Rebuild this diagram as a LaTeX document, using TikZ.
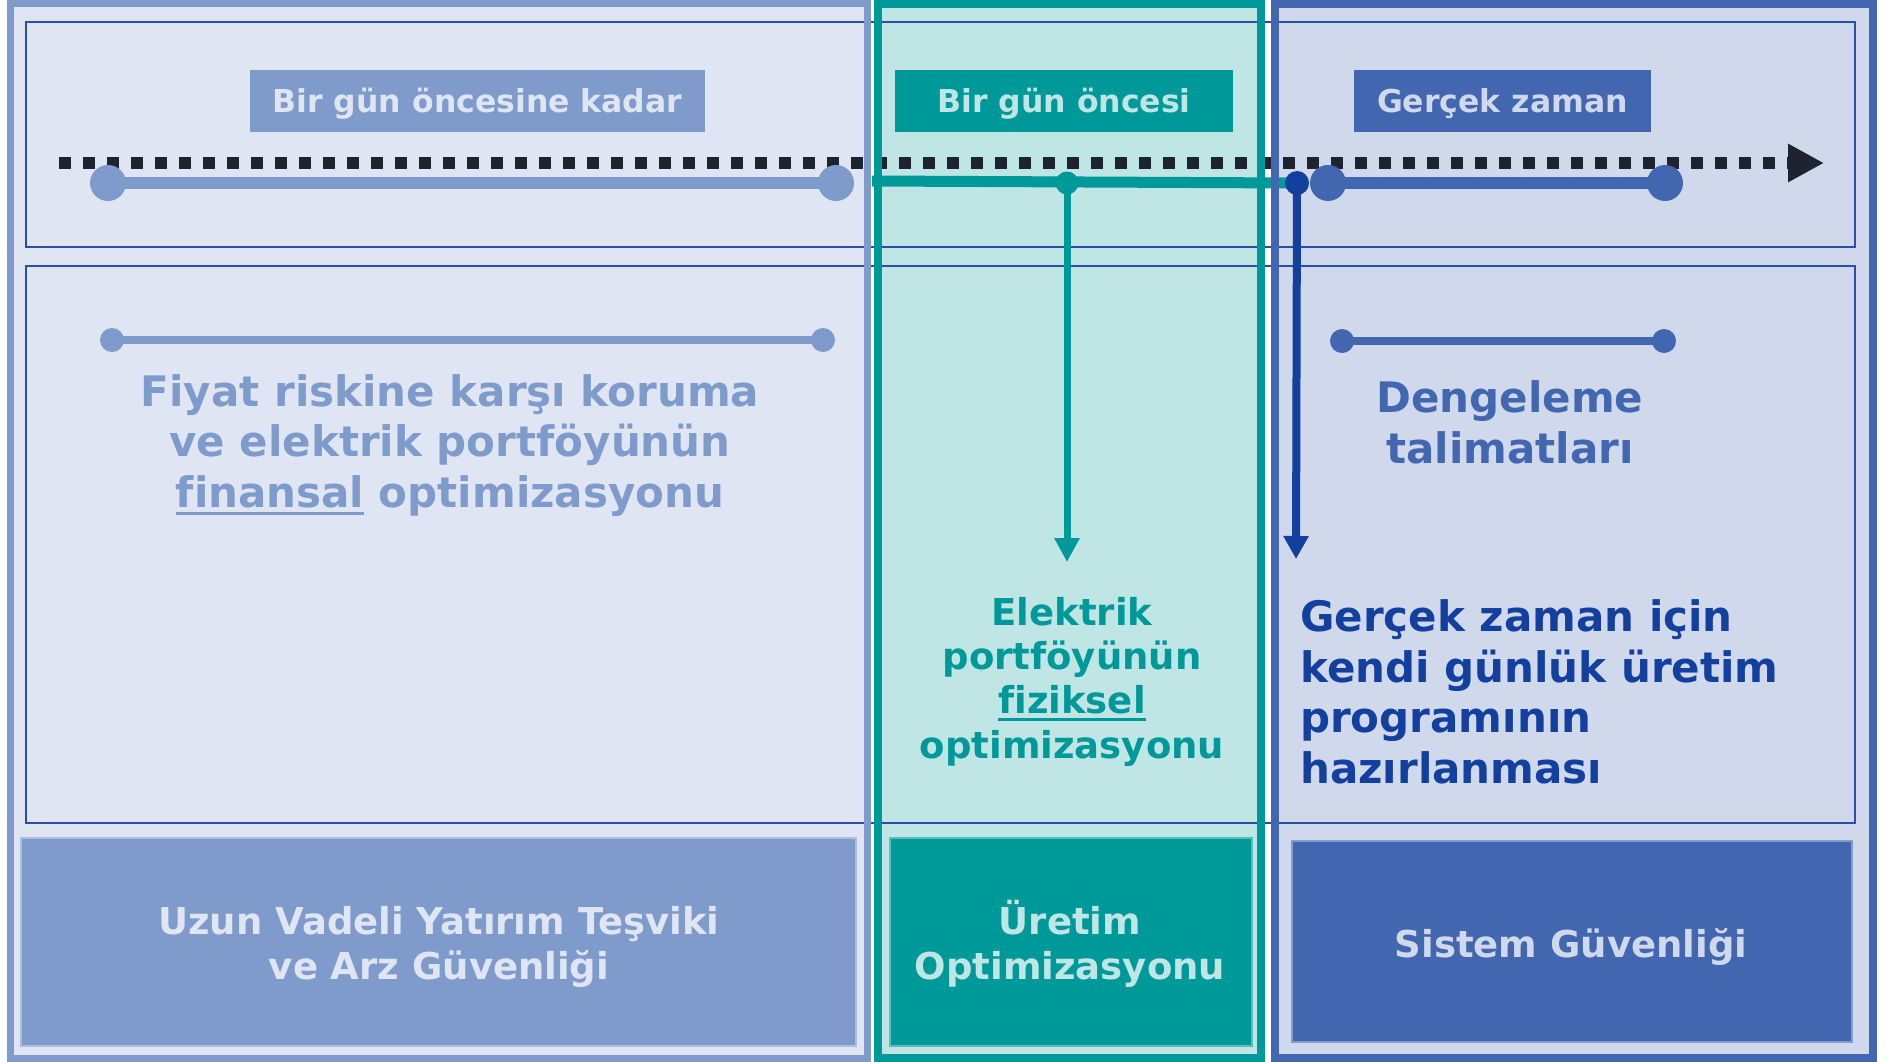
\documentclass[tikz,border=0pt]{standalone}
\usepackage{fontspec}
\setmainfont[Ligatures=NoCommon]{DejaVu Sans}
\usetikzlibrary{arrows.meta}
\definecolor{lbl}{HTML}{7F9BCC}
\definecolor{lfill}{HTML}{DFE5F3}
\definecolor{tealc}{HTML}{009999}
\definecolor{tfill}{HTML}{BFE5E5}
\definecolor{blu}{HTML}{4266B0}
\definecolor{bfill}{HTML}{D0D9EC}
\definecolor{dblu}{HTML}{133F9F}
\definecolor{thinc}{HTML}{2A4FA8}
\definecolor{dotc}{HTML}{1E2330}
\newsavebox\ulbox
\newcommand\myul[1]{\sbox\ulbox{#1}\rlap{\rule[-7.5pt]{\wd\ulbox}{3pt}}\usebox\ulbox}
\begin{document}
\begin{tikzpicture}[x=1pt,y=-1pt,
  blob/.style={circle,inner sep=0pt,minimum size=#1},
  lab/.style={inner sep=0pt,minimum height=62pt,text height=24pt,text depth=0pt,
    font=\bfseries\fontsize{31.5}{36}\selectfont},
  txt/.style={inner sep=0pt,align=center,anchor=base},
  bigtxt/.style={font=\bfseries\fontsize{42}{50.5}\selectfont},
  midtxt/.style={font=\bfseries\fontsize{37}{44.3}\selectfont},
  bottxt/.style={font=\bfseries\fontsize{37}{45}\selectfont},
  botbox/.style={inner sep=0pt,draw=white!35!#1,fill=#1,line width=1.5pt},
  thinbox/.style={draw=thinc,line width=2pt}
]
\useasboundingbox (0,0) rectangle (1897,1062);
\fill[white] (0,0) rectangle (1897,1062);
% column fills
\fill[lfill] (10,4) rectangle (867,1058);
\fill[tfill] (877.5,4) rectangle (1261,1058);
\fill[bfill] (1275,4) rectangle (1873,1058);
% thin bands
\draw[thinbox] (26,22) rectangle (1855,247);
\draw[thinbox] (26,266) rectangle (1855,823);
% time axis
\coordinate (ax0) at (59,163);
\coordinate (ax1) at (1824,163);
\draw[dotc,line width=12pt,dash pattern=on 12pt off 12pt,-{Triangle[length=36pt,width=36pt]}] (ax0) -- (ax1);
% teal line
\coordinate (tst) at (872,181);
\coordinate (bdc) at (1297,183);
\draw[tealc,line width=11pt] (tst) -- (bdc);
% column borders
\draw[lbl,line width=7pt] (10,4) rectangle (867,1058);
\draw[tealc,line width=8pt] (877.5,4) rectangle (1261,1058);
\draw[blu,line width=8pt] (1275,4) rectangle (1873,1058);
% label boxes
\node[lab,fill=lbl,text=lfill,minimum width=455pt] (la) at (477.5,101) {Bir gün öncesine kadar};
\node[lab,fill=tealc,text=tfill,minimum width=338pt] (lb) at (1064,101) {Bir gün öncesi};
\node[lab,fill=blu,text=bfill,minimum width=297pt] (lc) at (1502.5,101) {Gerçek zaman};
% top bars
\node[blob=36pt,fill=lbl] (l1) at (108,183) {};
\node[blob=36pt,fill=lbl] (l2) at (836,183) {};
\draw[lbl,line width=12pt] (l1.center) -- (l2.center);
\node[blob=36pt,fill=blu] (r1) at (1328,183) {};
\node[blob=36pt,fill=blu] (r2) at (1665,183) {};
\draw[blu,line width=12pt] (r1.center) -- (r2.center);
\node[blob=23pt,fill=tealc] (td) at (1067,183) {};
\node[blob=24pt,fill=dblu] (bd) at (bdc) {};
% vertical arrows
\coordinate (tarr) at (1067,562);
\coordinate (barr) at (1296,559);
\draw[tealc,line width=7pt,-{Triangle[length=24pt,width=24pt]}] (td.center) -- (tarr);
\draw[dblu,line width=8pt,-{Triangle[length=23pt,width=24pt]}] (bd.center) -- (barr);
% middle bars
\node[blob=24pt,fill=lbl] (m1) at (112,340) {};
\node[blob=24pt,fill=lbl] (m2) at (823,340) {};
\draw[lbl,line width=8pt] (m1.center) -- (m2.center);
\node[blob=24pt,fill=blu] (n1) at (1342,341) {};
\node[blob=24pt,fill=blu] (n2) at (1664,341) {};
\draw[blu,line width=8pt] (n1.center) -- (n2.center);
% texts (base anchor = baseline of last line)
\node[txt,bigtxt,text=lbl] (ltxt) at (450,507) {Fiyat riskine karşı koruma\\ve elektrik portföyünün\\\myul{finansal} optimizasyonu};
\node[txt,midtxt,text=tealc] (mtxt) at (1072,758) {Elektrik\\portföyünün\\\myul{fiziksel}\\optimizasyonu};
\node[txt,bigtxt,text=blu] (dtxt) at (1510,463) {Dengeleme\\talimatları};
\node[txt,bigtxt,text=dblu,align=left,anchor=base west] (rtxt) at (1300,783) {Gerçek zaman için\\kendi günlük üretim\\programının\\hazırlanması};
% bottom boxes
\node[botbox=lbl,minimum width=835pt,minimum height=208pt] (b1) at (438.5,942) {};
\node[botbox=tealc,minimum width=362pt,minimum height=208pt] (b2) at (1071,942) {};
\node[botbox=blu,minimum width=560pt,minimum height=201pt] (b3) at (1572,941.5) {};
\node[txt,bottxt,text=lfill] (b1t) at (439,979) {Uzun Vadeli Yatırım Teşviki\\ve Arz Güvenliği};
\node[txt,bottxt,text=tfill] (b2t) at (1070,979) {Üretim\\Optimizasyonu};
\node[txt,bottxt,text=bfill] (b3t) at (1571,957) {Sistem Güvenliği};
\end{tikzpicture}
\end{document}
